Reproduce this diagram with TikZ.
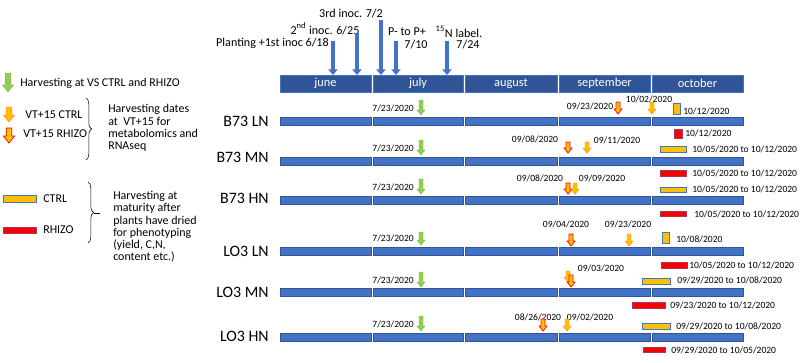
\documentclass[tikz,border=0pt]{standalone}
\usepackage{tikz}
\usepackage{xcolor}
\usepackage{amsmath}
\usepackage{fontspec}
\setmainfont{Carlito}
\usetikzlibrary{arrows.meta,decorations.pathreplacing}

\definecolor{barblue}{HTML}{4472C4}
\definecolor{darkblue}{HTML}{2F5597}
\definecolor{harvgreen}{HTML}{92D050}
\definecolor{ctrlyellow}{HTML}{FFC000}
\definecolor{rhizored}{HTML}{FF0000}

% block arrow: [size] {style} {x} {top y} {tip y}
\newcommand{\harvarrow}[5][1]{%
  \draw[#2] ({#3-2*#1},#4) -- ({#3+2*#1},#4) -- ({#3+2*#1},{#5-5*#1})
    -- ({#3+4*#1},{#5-5*#1}) -- (#3,#5) -- ({#3-4*#1},{#5-5*#1})
    -- ({#3-2*#1},{#5-5*#1}) -- cycle;}

\begin{document}
\begin{tikzpicture}[x=0.025cm, y=-0.025cm,
    rowlabel/.style={anchor=east, inner sep=0pt, font=\fontsize{11.3}{12}\selectfont},
    datelabel/.style={inner sep=0pt, font=\fontsize{6.8}{7}\selectfont},
    monthlabel/.style={inner sep=0pt, text=white, font=\fontsize{8.8}{9}\selectfont},
    toplabel/.style={inner sep=0pt, font=\fontsize{8.6}{9}\selectfont},
    legendtext/.style={inner sep=0pt, anchor=west, align=left, font=\fontsize{8.5}{8.7}\selectfont},
    rowbar/.style={fill=barblue, draw=darkblue, line width=0.3pt},
    ctrlbox/.style={fill=ctrlyellow, draw=barblue, line width=0.4pt},
    rhizobox/.style={fill=rhizored, draw=barblue!50!red, line width=0.4pt},
    greenarr/.style={fill=harvgreen, draw=harvgreen!80!black, line width=0.2pt},
    ctrlarr/.style={fill=ctrlyellow, draw=orange, line width=0.3pt},
    rhizoarr/.style={fill=ctrlyellow, draw=red, line width=0.5pt},
    toparrow/.style={draw=barblue, line width=2.2pt, -{Triangle[width=6.5pt,length=4pt]}}]
    \useasboundingbox (0,0) rectangle (800,362);

    %legend
    \harvarrow[1.4]{greenarr}{8}{73}{92}
    \node[legendtext] (lgvs) at (20,83) {Harvesting at VS CTRL and RHIZO};
    \harvarrow[1.4]{ctrlarr}{9}{107}{122}
    \node[legendtext] (lgctrl) at (25,115) {VT+15 CTRL};
    \harvarrow[1.4]{rhizoarr}{9}{128}{143}
    \node[legendtext] (lgrhizo) at (23,134) {VT+15 RHIZO};
    \draw[decorate, decoration={brace, amplitude=4pt}] (86,98) -- (86,160);
    \node[legendtext] (lgvt) at (108,128) {Harvesting dates\\at\ \ VT+15 for\\metabolomics and\\RNAseq};

    \draw[ctrlbox] (3,195) rectangle (36,202);
    \node[legendtext] (lgbctrl) at (43,198.5) {CTRL};
    \draw[rhizobox] (3,227) rectangle (36,233);
    \node[legendtext] (lgbrhizo) at (43,230) {RHIZO};
    \draw[decorate, decoration={brace, amplitude=4pt}] (88,182) -- (88,243);
    \draw (94,213) -- (100,213);
    \node[legendtext] (lgmat) at (113,227) {Harvesting at\\maturity after\\plants have dried\\for phenotyping\\(yield, C,N,\\content etc.)};

    %months
    \foreach \xa/\xb/\mon in {280/371/june, 373/463/july, 465/557/august, 559/650/september, 652/743/october}{
      \draw[fill=darkblue, draw=barblue, line width=0.3pt] (\xa,75) rectangle (\xb,92);
      \node[monthlabel] (m-\mon) at ({(\xa+\xb)/2},83.5) {\mon};
    }
    \coordinate (bartop) at (0,75);

    %events
    \node[toplabel, anchor=east] (tplant) at (329,43) {Planting +1st inoc 6/18};
    \node[toplabel] (tsecond) at (325,29) {2\textsuperscript{nd} inoc. 6/25};
    \node[toplabel] (tthird) at (351,14) {3rd inoc. 7/2};
    \node[toplabel] (tpp) at (407,32) {P- to P+};
    \node[toplabel] (tppdate) at (416,45) {7/10};
    \node[toplabel] (tlabel) at (459,32) {\textsuperscript{15}N label.};
    \node[toplabel] (tlabeldate) at (468,45) {7/24};
    \coordinate (aplant) at (333,41);
    \coordinate (asecond) at (357,33);
    \coordinate (athird) at (381,20);
    \coordinate (app) at (396,41);
    \coordinate (alabel) at (447,41);
    \foreach \a in {aplant,asecond,athird,app,alabel}
      \draw[toparrow] (\a) -- (\a |- bartop);

    %rows
    \node[rowlabel] (b73ln) at (269,121) {B73 LN};
    \node[rowlabel] (b73mn) at (269,157) {B73 MN};
    \node[rowlabel] (b73hn) at (269,198) {B73 HN};
    \node[rowlabel] (lo3ln) at (269,251) {LO3 LN};
    \node[rowlabel] (lo3mn) at (269,292) {LO3 MN};
    \node[rowlabel] (lo3hn) at (269,336) {LO3 HN};
    \foreach \yr in {121.5,161,200.5,251.5,292,337.5}
      \foreach \xa/\xb in {280/371, 373/463, 465/557, 559/650, 652/743}
        \draw[rowbar] (\xa,{\yr-4}) rectangle (\xb,{\yr+4});

    %harvest at VS
    \foreach \ya/\yb/\n in {100/115/1, 140/155/2, 179/194/3, 232/245/4, 272/287/5, 316/331/6}{
      \harvarrow{greenarr}{421}{\ya}{\yb}
      \node[datelabel, anchor=east] (vs\n) at (414,{\yb-6.5}) {7/23/2020};
    }

    % B73 LN
    \node[datelabel] (d1a) at (590,106) {09/23/2020};
    \node[datelabel] (d1b) at (649,99) {10/02/2020};
    \harvarrow{rhizoarr}{618}{102}{114}
    \harvarrow{ctrlarr}{652}{102}{114}
    \draw[ctrlbox] (673,103) rectangle (680,114);
    \node[datelabel, anchor=west] (d1c) at (683,111) {10/12/2020};

    % B73 MN
    \draw[rhizobox] (674,129) rectangle (682,138);
    \node[datelabel, anchor=west] (d2a) at (685,133) {10/12/2020};
    \node[datelabel] (d2b) at (535,139) {09/08/2020};
    \node[datelabel] (d2c) at (617,140) {09/11/2020};
    \harvarrow{rhizoarr}{568}{142}{153}
    \harvarrow{ctrlarr}{587}{142}{153}
    \draw[ctrlbox] (660,146) rectangle (686,152);
    \node[datelabel, anchor=west] (d2d) at (692,149) {10/05/2020 to 10/12/2020};
    \draw[rhizobox] (660,170) rectangle (686,176);
    \node[datelabel, anchor=west] (d2e) at (692,173) {10/05/2020 to 10/12/2020};

    % B73 HN
    \node[datelabel] (d3a) at (540,178) {09/08/2020};
    \node[datelabel] (d3b) at (602,178) {09/09/2020};
    \harvarrow{rhizoarr}{568}{183}{194}
    \harvarrow{ctrlarr}{575}{183}{194}
    \draw[ctrlbox] (660,187) rectangle (686,192);
    \node[datelabel, anchor=west] (d3c) at (692,189.5) {10/05/2020 to 10/12/2020};
    \draw[rhizobox] (660,211) rectangle (686,216);
    \node[datelabel, anchor=west] (d3d) at (694,214) {10/05/2020 to 10/12/2020};

    % LO3 LN
    \node[datelabel] (d4a) at (566,224) {09/04/2020};
    \node[datelabel] (d4b) at (628,224) {09/23/2020};
    \harvarrow{rhizoarr}{571}{234}{246}
    \harvarrow{ctrlarr}{629}{234}{246}
    \draw[ctrlbox] (662,232) rectangle (669,243);
    \node[datelabel, anchor=west] (d4c) at (676,239) {10/08/2020};
    \draw[rhizobox] (661,262) rectangle (687,268);
    \node[datelabel, anchor=west] (d4d) at (689,265) {10/05/2020 to 10/12/2020};

    % LO3 MN
    \node[datelabel] (d5a) at (601,268) {09/03/2020};
    \harvarrow{ctrlarr}{568}{271}{282}
    \harvarrow{rhizoarr}{571}{275}{287}
    \draw[ctrlbox] (642,278) rectangle (670,284);
    \node[datelabel, anchor=west] (d5b) at (677,280.5) {09/29/2020 to 10/08/2020};
    \draw[rhizobox] (632,302) rectangle (665,308);
    \node[datelabel, anchor=west] (d5c) at (670,305) {09/23/2020 to 10/12/2020};

    % LO3 HN
    \node[datelabel] (d6a) at (538,317) {08/26/2020};
    \node[datelabel] (d6b) at (590,317) {09/02/2020};
    \harvarrow{rhizoarr}{543}{319}{331}
    \harvarrow{ctrlarr}{567}{319}{331}
    \draw[ctrlbox] (642,323) rectangle (670,329);
    \node[datelabel, anchor=west] (d6c) at (676,326) {09/29/2020 to 10/08/2020};
    \draw[rhizobox] (643,347) rectangle (665,352);
    \node[datelabel, anchor=west] (d6d) at (671,350) {09/29/2020 to 10/05/2020};
\end{tikzpicture}
\end{document}
